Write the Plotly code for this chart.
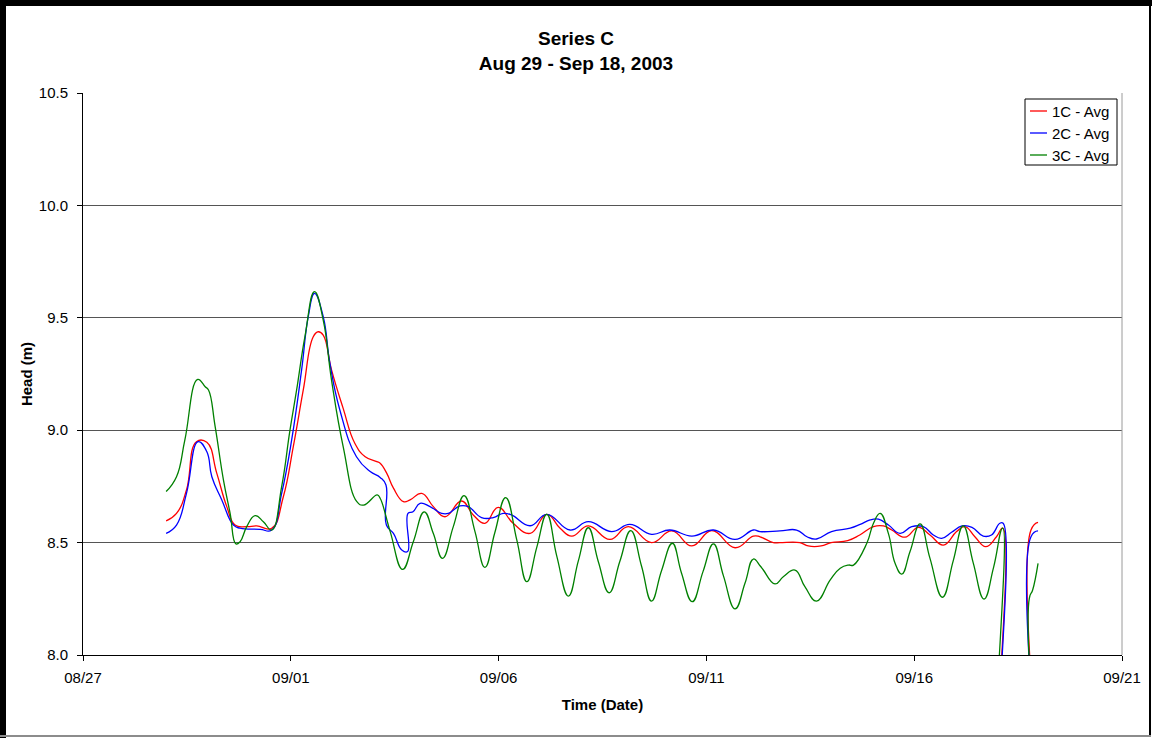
import pandas as pd
import plotly.graph_objects as go

# Hourly-averaged heads, Series C; time given as days elapsed since 2003-08-27 00:00
START = pd.Timestamp("2003-08-27")

c1_days = [2.00, 2.25, 2.49, 2.73, 2.98, 3.22, 3.46, 3.66, 3.94, 4.18, 4.54, 4.82, 5.06, 5.30,
           5.54, 5.66, 5.78, 5.98, 6.26, 6.54, 6.79, 7.07, 7.15, 7.31, 7.47, 7.71, 7.87, 8.15,
           8.43, 8.71, 9.11, 9.39, 9.67, 9.99, 10.35, 10.76, 11.16, 11.48, 11.76, 12.16, 12.68,
           13.12, 13.68, 14.17, 14.65, 15.13, 15.69, 16.13, 16.29, 16.61, 16.77, 17.25, 17.45,
           17.76, 18.00, 18.40, 18.69, 19.02, 19.26, 19.46, 19.78, 20.10, 20.38, 20.70, 21.02,
           21.22, 21.46, 21.72, 21.98, 22.13, 22.15, 22.79, 22.81, 22.98]
c1_head = [8.597, 8.630, 8.734, 8.949, 8.946, 8.808, 8.660, 8.578, 8.571, 8.574, 8.564, 8.704,
           8.927, 9.179, 9.416, 9.438, 9.423, 9.268, 9.097, 8.942, 8.882, 8.860, 8.853, 8.808,
           8.742, 8.682, 8.690, 8.719, 8.660, 8.615, 8.685, 8.623, 8.586, 8.657, 8.586, 8.541,
           8.626, 8.564, 8.529, 8.574, 8.514, 8.571, 8.500, 8.552, 8.485, 8.553, 8.477, 8.529,
           8.526, 8.500, 8.500, 8.500, 8.485, 8.485, 8.500, 8.509, 8.534, 8.571, 8.574, 8.556,
           8.524, 8.568, 8.534, 8.489, 8.549, 8.571, 8.526, 8.482, 8.526, 8.564, 6.000, 6.000,
           8.556, 8.590]

c2_days = [2.00, 2.25, 2.49, 2.77, 2.98, 3.10, 3.34, 3.62, 3.78, 4.26, 4.54, 4.78, 5.02, 5.26,
           5.42, 5.57, 5.78, 5.94, 6.18, 6.58, 6.91, 7.15, 7.29, 7.30, 7.47, 7.67, 7.81, 7.82,
           7.94, 8.11, 8.35, 8.63, 8.79, 9.07, 9.27, 9.59, 9.87, 10.11, 10.31, 10.76, 11.16,
           11.72, 12.16, 12.72, 13.16, 13.68, 14.12, 14.65, 15.17, 15.69, 16.13, 16.29, 16.77,
           17.17, 17.42, 17.65, 18.01, 18.46, 18.70, 18.94, 19.14, 19.38, 19.66, 19.94, 20.22,
           20.46, 20.66, 20.90, 21.15, 21.39, 21.66, 21.86, 22.06, 22.14, 22.15, 22.79, 22.81,
           22.98]
c2_head = [8.541, 8.578, 8.719, 8.949, 8.904, 8.793, 8.690, 8.578, 8.564, 8.559, 8.556, 8.719,
           8.956, 9.268, 9.505, 9.609, 9.505, 9.298, 9.090, 8.882, 8.816, 8.790, 8.756, 8.578,
           8.541, 8.467, 8.460, 8.630, 8.637, 8.675, 8.660, 8.630, 8.630, 8.663, 8.660, 8.611,
           8.611, 8.630, 8.623, 8.575, 8.626, 8.556, 8.593, 8.549, 8.581, 8.537, 8.556, 8.529,
           8.556, 8.514, 8.556, 8.549, 8.552, 8.556, 8.526, 8.516, 8.549, 8.564, 8.581, 8.601,
           8.604, 8.578, 8.541, 8.571, 8.571, 8.534, 8.519, 8.546, 8.574, 8.568, 8.529, 8.534,
           8.586, 8.586, 6.000, 6.000, 8.526, 8.552]

c3_days = [2.00, 2.25, 2.45, 2.76, 2.94, 3.02, 3.18, 3.38, 3.54, 3.68, 3.78, 3.94, 4.14, 4.34,
           4.54, 4.78, 4.98, 5.14, 5.34, 5.57, 5.78, 5.98, 6.26, 6.59, 6.75, 7.08, 7.15, 7.39,
           7.69, 7.95, 8.21, 8.43, 8.65, 8.91, 9.17, 9.43, 9.67, 9.91, 10.17, 10.44, 10.68,
           10.92, 11.16, 11.40, 11.68, 11.92, 12.16, 12.40, 12.66, 12.92, 13.18, 13.44, 13.68,
           13.92, 14.18, 14.40, 14.66, 14.92, 15.17, 15.41, 15.69, 15.93, 16.13, 16.29, 16.37,
           16.65, 16.85, 17.13, 17.37, 17.65, 17.98, 18.22, 18.42, 18.54, 18.86, 19.02, 19.18,
           19.38, 19.54, 19.70, 19.90, 20.14, 20.38, 20.68, 20.94, 21.18, 21.42, 21.68, 21.91,
           22.13, 22.15, 22.76, 22.77, 22.85, 22.98]
c3_head = [8.727, 8.793, 8.956, 9.226, 9.193, 9.179, 9.016, 8.778, 8.630, 8.494, 8.504, 8.571,
           8.620, 8.593, 8.556, 8.749, 9.000, 9.179, 9.416, 9.616, 9.490, 9.223, 8.927, 8.682,
           8.667, 8.712, 8.697, 8.550, 8.381, 8.505, 8.637, 8.540, 8.430, 8.571, 8.709, 8.550,
           8.390, 8.545, 8.700, 8.510, 8.326, 8.480, 8.626, 8.440, 8.262, 8.420, 8.566, 8.415,
           8.277, 8.418, 8.553, 8.395, 8.240, 8.375, 8.497, 8.365, 8.237, 8.372, 8.494, 8.352,
           8.205, 8.320, 8.427, 8.397, 8.378, 8.316, 8.348, 8.378, 8.304, 8.240, 8.334, 8.386,
           8.400, 8.400, 8.497, 8.586, 8.630, 8.540, 8.408, 8.360, 8.460, 8.583, 8.430, 8.257,
           8.420, 8.574, 8.410, 8.249, 8.390, 8.564, 6.000, 6.000, 8.252, 8.289, 8.408]

series_names = ["1C - Avg", "2C - Avg", "3C - Avg"]
series_colors = ["#ff0000", "#0000ff", "#008000"]
series_days = [c1_days, c2_days, c3_days]
series_heads = [c1_head, c2_head, c3_head]

y_ticks = [8.0, 8.5, 9.0, 9.5, 10.0, 10.5]

FONT = "Liberation Sans, Arial, sans-serif"
W, H = 1152, 738
L, R, T, B = 83, 30, 93, 83
PW, PH = W - L - R, H - T - B


def fx(px):
    """Pixel column -> paper x."""
    return (px - L) / PW


def fy(py):
    """Pixel row -> paper y."""
    return (H - B - py) / PH


fig = go.Figure()
for name, color, days, heads in zip(series_names, series_colors, series_days, series_heads):
    t = START + pd.to_timedelta(days, unit="D")
    fig.add_trace(go.Scatter(
        x=t, y=heads, name=name, mode="lines", showlegend=False,
        line=dict(color=color, width=1.3, shape="spline", smoothing=1.3),
    ))

shapes = [
    # outer chart frame: heavy left/top, thin right, grey bottom
    dict(type="rect", xref="paper", yref="paper", x0=fx(0), x1=fx(6), y0=fy(H), y1=fy(0),
         fillcolor="black", line=dict(width=0), layer="above"),
    dict(type="rect", xref="paper", yref="paper", x0=fx(0), x1=fx(W), y0=fy(6), y1=fy(0),
         fillcolor="black", line=dict(width=0), layer="above"),
    dict(type="rect", xref="paper", yref="paper", x0=fx(1149), x1=fx(1151), y0=fy(736), y1=fy(0),
         fillcolor="black", line=dict(width=0), layer="above"),
    dict(type="rect", xref="paper", yref="paper", x0=fx(0), x1=fx(1151), y0=fy(737), y1=fy(735),
         fillcolor="#8c8c8c", line=dict(width=0), layer="above"),
    # plot-area right edge
    dict(type="line", xref="paper", yref="paper", x0=1, x1=1, y0=0, y1=1,
         line=dict(color="#9a9a9a", width=1), layer="above"),
    # legend box
    dict(type="rect", xref="paper", yref="paper", x0=fx(1025), x1=fx(1117), y0=fy(165), y1=fy(99),
         fillcolor="white", line=dict(color="black", width=1), layer="above"),
]

annotations = []
legend_rows = [111, 133, 155]
for name, color, row in zip(series_names, series_colors, legend_rows):
    shapes.append(dict(type="line", xref="paper", yref="paper",
                       x0=fx(1030), x1=fx(1047), y0=fy(row), y1=fy(row),
                       line=dict(color=color, width=1.3), layer="above"))
    annotations.append(dict(text=name, xref="paper", yref="paper", x=fx(1050), y=fy(row),
                            xanchor="left", yanchor="middle", showarrow=False,
                            font=dict(family=FONT, size=15, color="black")))

fig.update_layout(
    width=W, height=H,
    margin=dict(l=L, r=R, t=T, b=B, pad=0),
    paper_bgcolor="white", plot_bgcolor="white",
    font=dict(family=FONT, size=15, color="black"),
    title=dict(
        text="<b>Series C</b><br><b>Aug 29 - Sep 18, 2003</b>",
        font=dict(family=FONT, size=19, color="black"),
        x=0.5, xref="container", xanchor="center",
        y=1 - 45 / H, yref="container", yanchor="top",
    ),
    showlegend=False,
    shapes=shapes,
    annotations=annotations,
)

fig.update_xaxes(
    type="date",
    range=[START, START + pd.Timedelta(days=25)],
    tick0=START, dtick=5 * 86400000, tickformat="%m/%d",
    ticks="outside", ticklen=5, tickcolor="black", tickwidth=1,
    showline=True, linecolor="black", linewidth=1,
    showgrid=False, zeroline=False,
    ticklabelstandoff=4,
    tickfont=dict(family=FONT, size=15, color="black"),
    title=dict(text="<b>Time (Date)</b>", font=dict(family=FONT, size=15, color="black"),
               standoff=14),
)

fig.update_yaxes(
    range=[8.0, 10.5],
    tickvals=y_ticks, tickformat=".1f",
    ticks="outside", ticklen=5, tickcolor="black", tickwidth=1,
    showline=True, linecolor="black", linewidth=1,
    showgrid=True, gridcolor="#555555", gridwidth=1, zeroline=False,
    ticklabelstandoff=6,
    tickfont=dict(family=FONT, size=15, color="black"),
    title=dict(text="<b>Head (m)</b>", font=dict(family=FONT, size=15, color="black"),
               standoff=2),
)

fig.write_html("out.html")
